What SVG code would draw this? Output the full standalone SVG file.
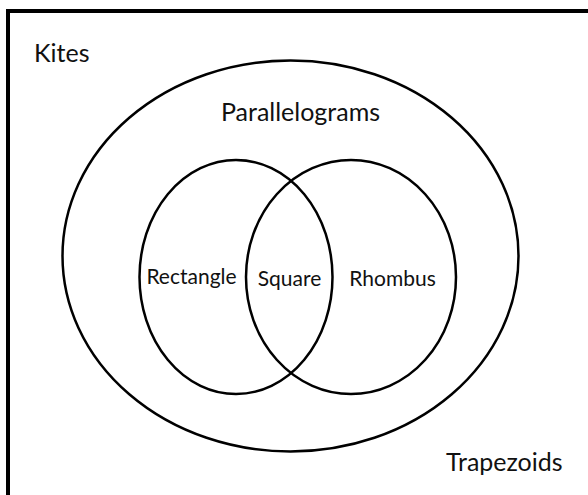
<svg xmlns="http://www.w3.org/2000/svg" width="588" height="495" viewBox="0 0 588 495">
<style>
.shape{fill:none;stroke:#000;stroke-width:2.5}
.lbl{font-family:Lato,"Open Sans","Liberation Sans",sans-serif;font-size:25px;fill:#111}
.sm{font-size:21px}
</style>
<rect x="0" y="0" width="588" height="495" fill="#fff"/>
<g id="kites">
<rect x="8" y="11" width="590" height="500" fill="none" stroke="#000" stroke-width="4"/>
<text class="lbl" x="34" y="62">Kites</text>
</g>
<g id="trapezoids">
<text class="lbl" x="446" y="471">Trapezoids</text>
</g>
<g id="parallelograms">
<ellipse class="shape" cx="290.5" cy="256" rx="228" ry="195.5"/>
<text class="lbl" x="300.5" y="121" text-anchor="middle">Parallelograms</text>
</g>
<g id="rectangle">
<ellipse class="shape" cx="236" cy="277" rx="96.5" ry="117"/>
<text class="lbl sm" x="191.5" y="284" text-anchor="middle">Rectangle</text>
</g>
<g id="rhombus">
<ellipse class="shape" cx="351" cy="277" rx="105" ry="117"/>
<text class="lbl sm" x="392.5" y="286" text-anchor="middle">Rhombus</text>
</g>
<g id="square">
<text class="lbl sm" x="289.5" y="286" text-anchor="middle">Square</text>
</g>
<g id="connectors"/>
</svg>
